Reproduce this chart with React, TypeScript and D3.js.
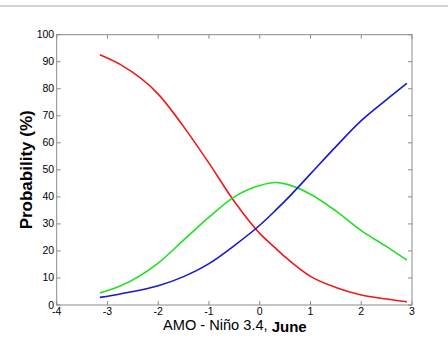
import * as d3 from 'd3';

// AMO - Niño 3.4 index values where the curves are sampled
const xValues = [-3.15, -2.75, -2.0, -1.5, -1.0, -0.5, 0, 0.3, 0.5, 1.0, 1.5, 2.0, 2.5, 2.9];

// Probability (%) for each tercile category
const redValues = [92.6, 89.0, 78.0, 66.0, 52.5, 38.3, 26.5, 21.2, 17.8, 10.6, 6.5, 3.7, 2.2, 1.2];
const greenValues = [4.4, 7.0, 15.5, 24.0, 32.5, 40.0, 44.2, 45.3, 44.8, 41.0, 34.8, 27.5, 21.6, 16.6];
const blueValues = [2.8, 4.1, 7.1, 10.5, 15.3, 22.0, 29.5, 34.8, 38.5, 48.5, 58.6, 68.2, 76.0, 82.0];

const xTicks = [-4, -3, -2, -1, 0, 1, 2, 3];
const yTicks = [0, 10, 20, 30, 40, 50, 60, 70, 80, 90, 100];

const series = [
  { name: 'above', values: redValues, color: '#f01818' },
  { name: 'normal', values: greenValues, color: '#22e022' },
  { name: 'below', values: blueValues, color: '#1818d0' },
];

export default function App() {
  const width = 448;
  const height = 339;
  const margin = { top: 34.7, right: 36, bottom: 34, left: 56.7 };

  const x = d3.scaleLinear().domain([-4, 3]).range([margin.left, width - margin.right]);
  const y = d3.scaleLinear().domain([0, 100]).range([height - margin.bottom, margin.top]);

  const line = d3
    .line<number>()
    .x((_, i) => x(xValues[i]))
    .y((d) => y(d))
    .curve(d3.curveMonotoneX);

  const axisColor = '#8a8a8a';
  const tickLen = 4;
  const x0 = x(-4);
  const x1 = x(3);
  const y0 = y(0);
  const y1 = y(100);

  return (
    <svg
      width={width}
      height={height}
      style={{ position: 'absolute', left: 0, top: 0, background: '#fff' }}
      fontFamily="'Liberation Sans', Arial, sans-serif"
    >
      {/* page separator */}
      <line x1={0} x2={width} y1={6} y2={6} stroke="#a8a8a8" strokeWidth={1.2} />

      {/* curves */}
      {series.map((s) => (
        <path
          key={s.name}
          d={line(s.values) ?? ''}
          fill="none"
          stroke={s.color}
          strokeWidth={1.6}
          strokeLinejoin="round"
        />
      ))}

      {/* box */}
      <rect x={x0} y={y1} width={x1 - x0} height={y0 - y1} fill="none" stroke={axisColor} strokeWidth={1} />

      {/* x ticks, bottom and top, pointing inward */}
      {xTicks.map((t) => (
        <g key={`x${t}`}>
          <line x1={x(t)} x2={x(t)} y1={y0} y2={y0 - tickLen} stroke={axisColor} />
          <line x1={x(t)} x2={x(t)} y1={y1} y2={y1 + tickLen} stroke={axisColor} />
          <text x={x(t)} y={y0 + 10} fontSize={10.5} textAnchor="middle" fill="#000">
            {t}
          </text>
        </g>
      ))}

      {/* y ticks, left and right */}
      {yTicks.map((t) => (
        <g key={`y${t}`}>
          <line x1={x0} x2={x0 + tickLen} y1={y(t)} y2={y(t)} stroke={axisColor} />
          <line x1={x1} x2={x1 - tickLen} y1={y(t)} y2={y(t)} stroke={axisColor} />
          <text x={x0 - 2.5} y={y(t) + 3.5} fontSize={10.5} textAnchor="end" fill="#000">
            {t}
          </text>
        </g>
      ))}

      {/* axis labels */}
      <text
        transform={`translate(32,${(y0 + y1) / 2}) rotate(-90)`}
        textAnchor="middle"
        fontSize={17}
        fontWeight="bold"
        fill="#000"
      >
        Probability (%)
      </text>
      <text x={163} y={329.5} fontSize={14.6} fill="#000">
        AMO - Niño 3.4,{' '}
        <tspan fontWeight="bold" fontSize={15} dy={2.5}>
          June
        </tspan>
      </text>
    </svg>
  );
}
